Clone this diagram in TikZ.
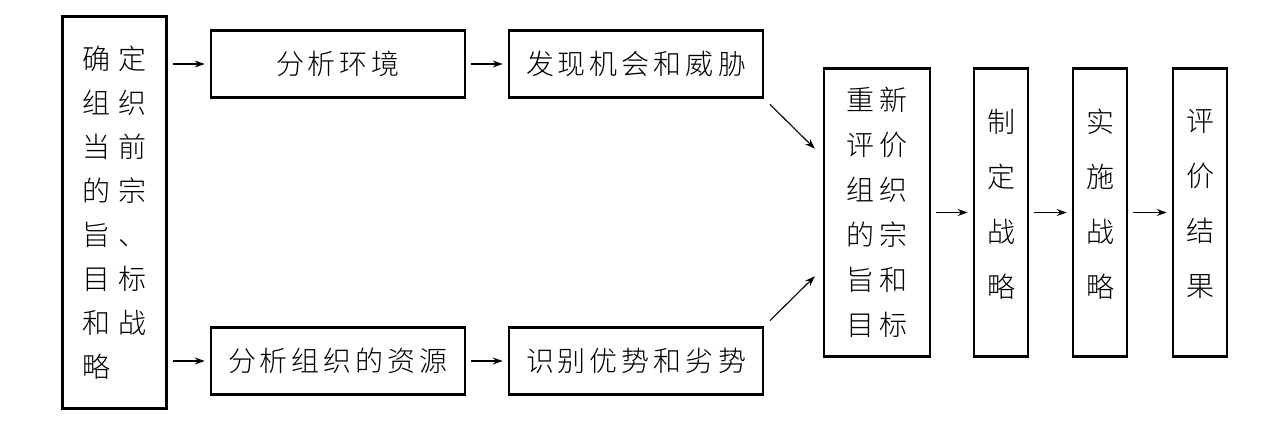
\documentclass[tikz,border=0pt]{standalone}
\usepackage{fontspec}
\setmainfont{Noto Sans CJK SC}[UprightFont=* Light]
\usetikzlibrary{arrows.meta}
\newcommand\gap{\kern4pt}
\newcommand\cgap{\kern8pt}
\newcommand\egap{\kern5pt}
\begin{document}
\begin{tikzpicture}[x=1pt,y=-1pt,
  box/.style={draw, line width=2.6pt, inner sep=0pt, font=\fontsize{28}{32}\selectfont},
  hbox/.style={box, minimum width=254pt, minimum height=67pt},
  vbox/.style={box, minimum width=54pt, minimum height=288pt},
  vtext/.style={inner sep=0pt, align=center, font=\fontsize{28}{55}\selectfont},
  arr/.style={-{Stealth[length=10pt,width=7pt]}, line width=1.1pt, shorten <=5pt, shorten >=5pt},
  darr/.style={-{Stealth[length=10pt,width=7pt]}, line width=1.1pt, shorten <=8pt, shorten >=11pt}]
\useasboundingbox (0,0) rectangle (1283,430);
\node[box, minimum width=104pt, minimum height=392pt, align=left, font=\fontsize{28}{44}\selectfont] (L) at (114.5,212.5)
  {确\cgap 定\\组\cgap 织\\当\cgap 前\\的\cgap 宗\\旨\cgap 、\\目\cgap 标\\和\cgap 战\\略};
\node[hbox] (A) at (338,64) {分\gap 析\gap 环\gap 境};
\node[hbox] (B) at (636,64) {发\gap 现\gap 机\gap 会\gap 和\gap 威\gap 胁};
\node[hbox] (C) at (338,361) {分\gap 析\gap 组\gap 织\gap 的\gap 资\gap 源};
\node[hbox] (D) at (636,361) {识\gap 别\gap 优\gap 势\gap 和\gap 劣\gap 势};
\node[box, minimum width=106pt, minimum height=288pt, align=center, font=\fontsize{28}{45}\selectfont] (E) at (877,212.5)
  {重\egap 新\\评\egap 价\\组\egap 织\\的\egap 宗\\旨\egap 和\\目\egap 标};
\node[vbox] (F) at (1001,212.5) {};
\node[vbox] (G) at (1100,212.5) {};
\node[vbox] (H) at (1200,212.5) {};
\node[vtext] (Ft) at (1001,204) {制\\定\\战\\略};
\node[vtext] (Gt) at (1100,204) {实\\施\\战\\略};
\node[vtext] (Ht) at (1200,204) {评\\价\\结\\果};
\draw[arr] (L.east |- A.west) -- (A.west);
\draw[arr] (L.east |- C.west) -- (C.west);
\draw[arr] (A) -- (B);
\draw[arr] (C) -- (D);
\draw[darr] (B.south east) -- ([yshift=56pt]E.west);
\draw[darr] (D.north east) -- ([yshift=-56pt]E.west);
\draw[arr] (E) -- (F);
\draw[arr] (F) -- (G);
\draw[arr] (G) -- (H);
\end{tikzpicture}
\end{document}
